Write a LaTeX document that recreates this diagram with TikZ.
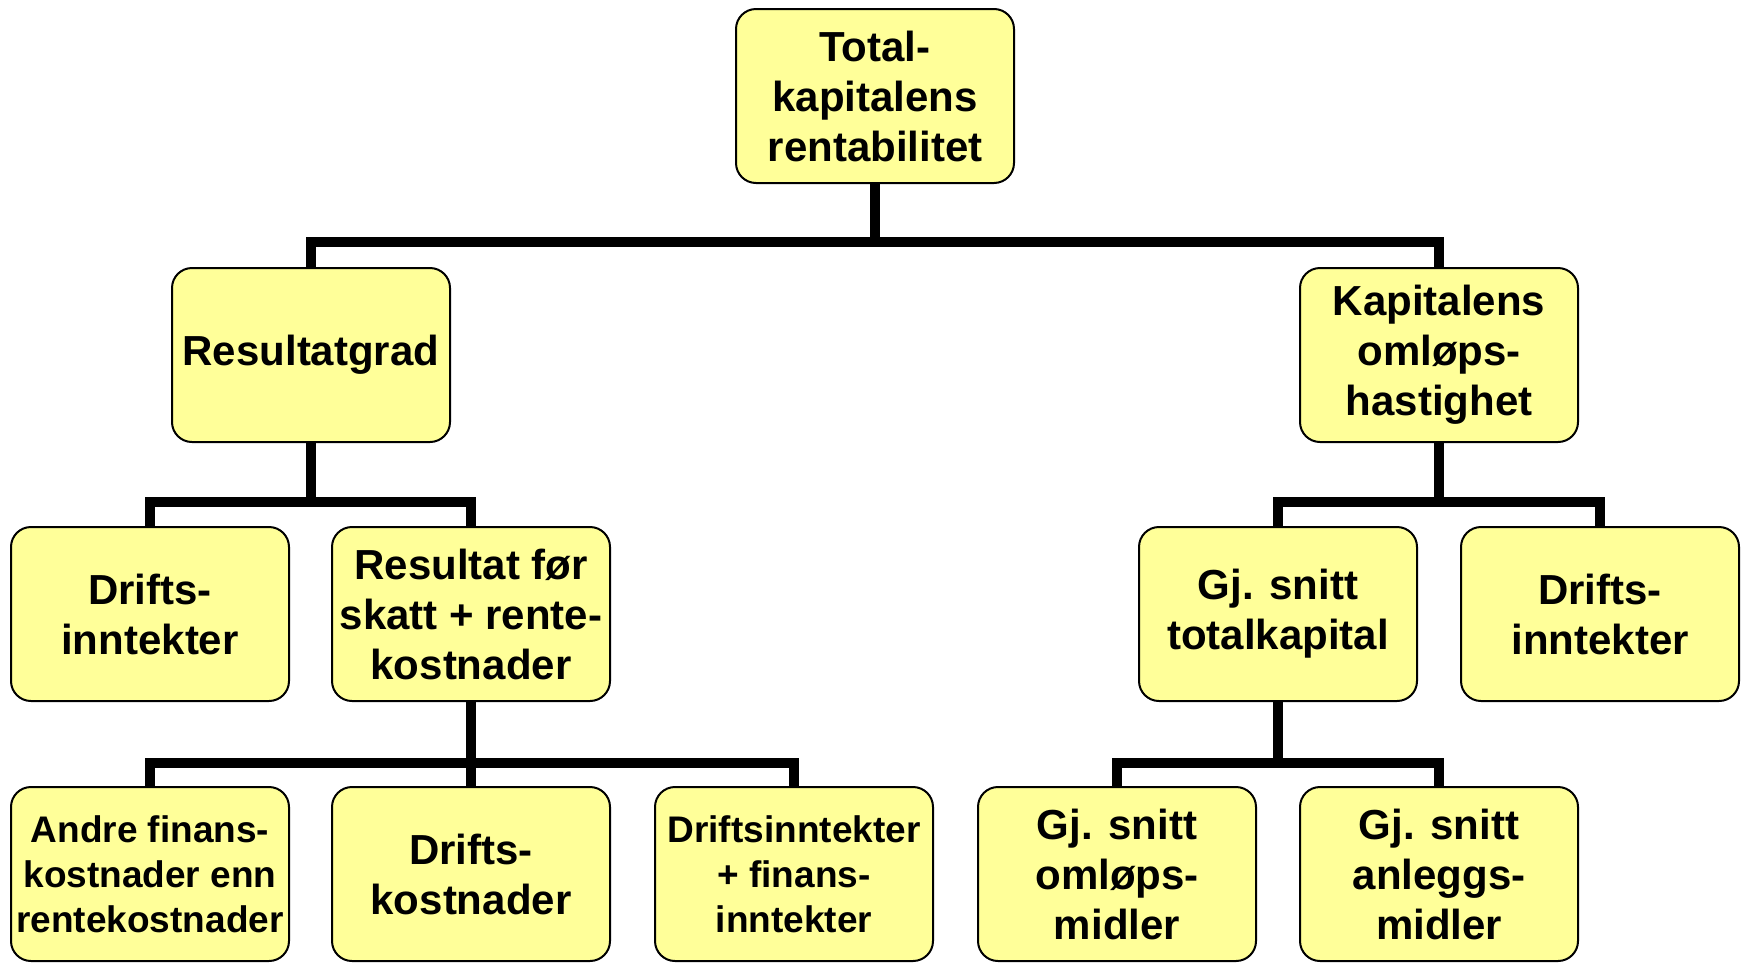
\documentclass[tikz,border=0pt]{standalone}
\usepackage{fontspec}
\setmainfont{Liberation Sans}
\usetikzlibrary{backgrounds}
\definecolor{boxfill}{HTML}{FFFF99}
\tikzset{
  box/.style={draw=black, line width=1pt, fill=boxfill, rounded corners=10pt,
    minimum width=139pt, minimum height=87pt, inner sep=1pt, align=center,
    font=\fontsize{21}{25}\selectfont\bfseries},
  smallbox/.style={box, font=\fontsize{18.5}{22.5}\selectfont\bfseries},
  conn/.style={line width=5pt, line join=miter}
}
\begin{document}
\begin{tikzpicture}[x=0.5pt, y=-0.5pt]
\useasboundingbox (0,0) rectangle (1743,964);
\node[box] (top) at (875,96) {Total-\\kapitalens\\rentabilitet};
\node[box] (res) at (311,355) {Resultatgrad};
\node[box] (kap) at (1439,355) {Kapitalens\\omløps-\\hastighet};
\node[box] (di1) at (150,614) {Drifts-\\inntekter};
\node[box] (rfs) at (471,614) {Resultat før\\skatt + rente-\\kostnader};
\node[box] (gjt) at (1278,614) {Gj. snitt\\totalkapital};
\node[box] (di2) at (1600,614) {Drifts-\\inntekter};
\node[smallbox] (afk) at (150,874) {Andre finans-\\kostnader enn\\rentekostnader};
\node[box] (dk) at (471,874) {Drifts-\\kostnader};
\node[smallbox] (dfi) at (794,874) {Driftsinntekter\\+ finans-\\inntekter};
\node[box] (gjo) at (1117,874) {Gj. snitt\\omløps-\\midler};
\node[box] (gja) at (1439,874) {Gj. snitt\\anleggs-\\midler};
\coordinate (b1) at (875,242);
\coordinate (b2) at (311,502);
\coordinate (b3) at (1439,502);
\coordinate (b4) at (471,763);
\coordinate (b5) at (1278,763);
\begin{scope}[on background layer]
\draw[conn] (top.south) -- (b1);
\draw[conn] (res.north) |- (b1) -| (kap.north);
\draw[conn] (res.south) -- (b2);
\draw[conn] (di1.north) |- (b2) -| (rfs.north);
\draw[conn] (kap.south) -- (b3);
\draw[conn] (gjt.north) |- (b3) -| (di2.north);
\draw[conn] (rfs.south) -- (b4);
\draw[conn] (afk.north) |- (b4) -| (dfi.north);
\draw[conn] (b4) -- (dk.north);
\draw[conn] (gjt.south) -- (b5);
\draw[conn] (gjo.north) |- (b5) -| (gja.north);
\end{scope}
\end{tikzpicture}
\end{document}
